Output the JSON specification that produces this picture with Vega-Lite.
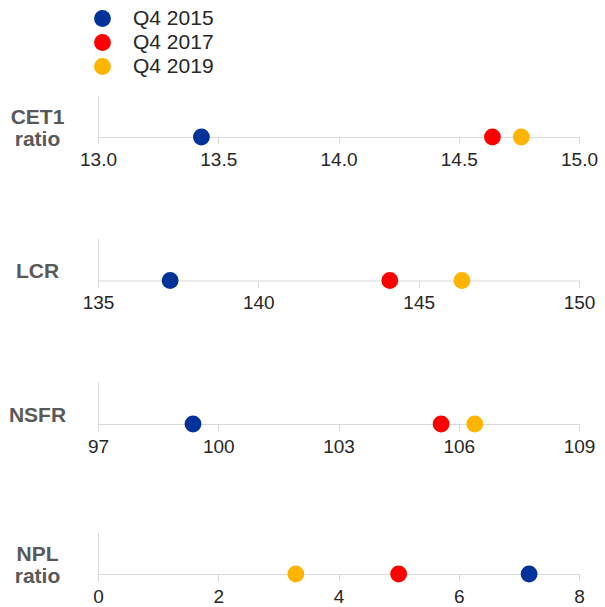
{
  "$schema": "https://vega.github.io/schema/vega-lite/v6.json",
  "background": "white",
  "padding": {"left": 8, "top": 8, "right": 5, "bottom": 5},
  "config": {
    "font": "Liberation Sans",
    "view": {"stroke": null},
    "axisX": {"domainColor": "#d9d9d9", "tickColor": "#d9d9d9", "tickSize": 7, "labelFontSize": 19, "labelColor": "#262626", "labelPadding": 6, "grid": false, "title": null, "labelFlush": false},
    "axisY": {"domainColor": "#d9d9d9", "ticks": false, "labels": false, "grid": false, "titleAngle": 0, "titleAlign": "center", "titleBaseline": "middle", "titleX": -61, "titleY": 33, "titleFontSize": 21, "titleFontWeight": "bold", "titleColor": "#595959", "titleLineHeight": 22}
  },
  "datasets": {
    "d": [
      {"metric": "CET1 ratio", "period": "Q4 2015", "value": 13.43},
      {"metric": "CET1 ratio", "period": "Q4 2017", "value": 14.64},
      {"metric": "CET1 ratio", "period": "Q4 2019", "value": 14.76},
      {"metric": "LCR", "period": "Q4 2015", "value": 137.25},
      {"metric": "LCR", "period": "Q4 2017", "value": 144.1},
      {"metric": "LCR", "period": "Q4 2019", "value": 146.35},
      {"metric": "NSFR", "period": "Q4 2015", "value": 99.37},
      {"metric": "NSFR", "period": "Q4 2017", "value": 105.56},
      {"metric": "NSFR", "period": "Q4 2019", "value": 106.4},
      {"metric": "NPL ratio", "period": "Q4 2015", "value": 7.17},
      {"metric": "NPL ratio", "period": "Q4 2017", "value": 5.0},
      {"metric": "NPL ratio", "period": "Q4 2019", "value": 3.29}
    ]
  },
  "spacing": 76,
  "vconcat": [
    {
      "spacing": 69.5,
      "vconcat": [
        {
          "width": 481, "height": 42,
          "data": {"name": "d"},
          "transform": [{"filter": "datum.metric === 'CET1 ratio'"}],
          "mark": {"type": "circle", "size": 283, "opacity": 1},
          "encoding": {
            "x": {"field": "value", "type": "quantitative", "scale": {"domain": [13, 15], "nice": false, "zero": false}, "axis": {"values": [13, 13.5, 14, 14.5, 15], "format": ".1f"}},
            "y": {"datum": 0, "type": "quantitative", "scale": {"domain": [0, 1]}, "axis": {"title": ["CET1", "ratio"], "titleY": 22}},
            "color": {"field": "period", "type": "nominal", "scale": {"domain": ["Q4 2015", "Q4 2017", "Q4 2019"], "range": ["#003299", "#ff0000", "#ffb400"]},
              "legend": {"orient": "none", "legendX": -6, "legendY": -87, "title": null, "symbolSize": 283, "symbolType": "circle", "symbolStrokeWidth": 0, "symbolOpacity": 1, "labelFontSize": 21, "labelColor": "#262626", "labelOffset": 20, "rowPadding": 2}}
          }
        },
        {
          "width": 481, "height": 42,
          "data": {"name": "d"},
          "transform": [{"filter": "datum.metric === 'LCR'"}],
          "mark": {"type": "circle", "size": 283, "opacity": 1},
          "encoding": {
            "x": {"field": "value", "type": "quantitative", "scale": {"domain": [135, 150], "nice": false, "zero": false}, "axis": {"values": [135, 140, 145, 150]}},
            "y": {"datum": 0, "type": "quantitative", "scale": {"domain": [0, 1]}, "axis": {"title": "LCR"}},
            "color": {"field": "period", "type": "nominal"}
          }
        },
        {
          "width": 481, "height": 42,
          "data": {"name": "d"},
          "transform": [{"filter": "datum.metric === 'NSFR'"}],
          "mark": {"type": "circle", "size": 283, "opacity": 1},
          "encoding": {
            "x": {"field": "value", "type": "quantitative", "scale": {"domain": [97, 109], "nice": false, "zero": false}, "axis": {"values": [97, 100, 103, 106, 109]}},
            "y": {"datum": 0, "type": "quantitative", "scale": {"domain": [0, 1]}, "axis": {"title": "NSFR"}},
            "color": {"field": "period", "type": "nominal"}
          }
        }
      ]
    },
    {
      "width": 481, "height": 42,
      "data": {"name": "d"},
      "transform": [{"filter": "datum.metric === 'NPL ratio'"}],
      "mark": {"type": "circle", "size": 283, "opacity": 1},
      "encoding": {
        "x": {"field": "value", "type": "quantitative", "scale": {"domain": [0, 8], "nice": false, "zero": false}, "axis": {"values": [0, 2, 4, 6, 8]}},
        "y": {"datum": 0, "type": "quantitative", "scale": {"domain": [0, 1]}, "axis": {"title": ["NPL", "ratio"], "titleY": 22}},
        "color": {"field": "period", "type": "nominal"}
      }
    }
  ]
}
